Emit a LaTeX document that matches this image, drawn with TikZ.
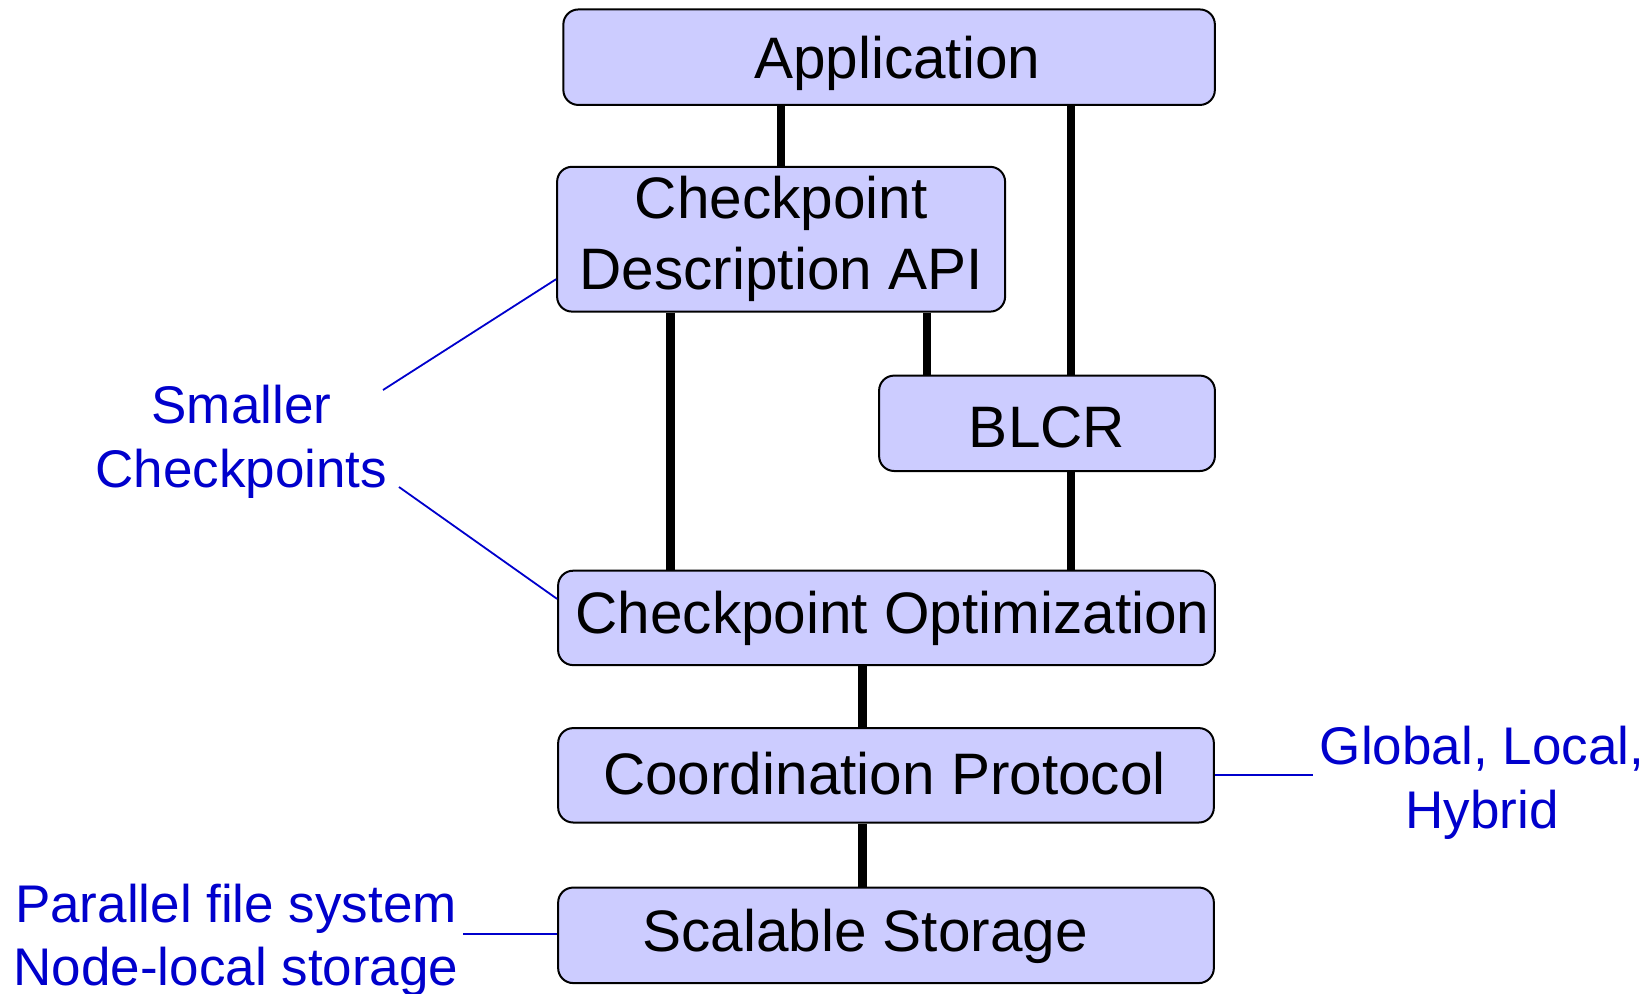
\documentclass[tikz,border=0pt]{standalone}
\usepackage{fontspec}
\setmainfont{Liberation Sans}
\definecolor{boxfill}{HTML}{CCCCFF}
\definecolor{notecolor}{HTML}{0000CC}
\begin{document}
\begin{tikzpicture}[x=1pt,y=-1pt,
  layer/.style={draw=black, line width=2pt, fill=boxfill, rounded corners=15pt, inner sep=0pt},
  layertext/.style={font=\fontsize{58.5}{68}\selectfont, text depth=0pt, align=center, inner sep=0pt},
  link/.style={line width=8.5pt},
  note/.style={font=\fontsize{53}{64}\selectfont, text=notecolor, text depth=0pt, align=center, inner sep=0pt},
  noteline/.style={draw=notecolor, line width=1.8pt}]
\useasboundingbox (0,0) rectangle (1645,993);

% layer boxes
\node[layer, minimum width=651.5pt, minimum height=95.5pt] (app)  at (889.1,57.2)  {};
\node[layer, minimum width=448pt,   minimum height=144.8pt] (cda) at (781.1,239.2) {};
\node[layer, minimum width=335.8pt, minimum height=95.4pt] (blcr) at (1047,423.3)  {};
\node[layer, minimum width=656.8pt, minimum height=94.4pt] (co)   at (886.5,617.9) {};
\node[layer, minimum width=655.7pt, minimum height=94.4pt] (cp)   at (886,775.3)   {};
\node[layer, minimum width=655.7pt, minimum height=95.5pt] (ss)   at (886,935.3)   {};

% box captions
\node[layertext] (apptext)  at ([xshift=8pt]app.center)   {Application};
\node[layertext, font=\fontsize{58.5}{71}\selectfont] (cdatext)  at ([yshift=6pt]cda.center) {Checkpoint\\Description API};
\node[layertext] (blcrtext) at ([yshift=-3.5pt]blcr.center) {BLCR};
\node[layertext] (cotext)   at ([xshift=6pt,yshift=5.5pt]co.center) {Checkpoint Optimization};
\node[layertext] (cptext)   at ([xshift=-1.5pt,yshift=2.5pt]cp.center) {Coordination Protocol};
\node[layertext] (sstext)   at ([xshift=-21pt,yshift=5pt]ss.center) {Scalable Storage};

% columns of the vertical links
\coordinate (colA) at (781,0);
\coordinate (colB) at (670.4,0);
\coordinate (colC) at (927,0);
\coordinate (colD) at (1071,0);
\coordinate (colE) at (862.4,0);

\draw[link] (app.south -| colA)  -- (cda.north -| colA);
\draw[link] (app.south -| colD)  -- (blcr.north -| colD);
\draw[link] (cda.south -| colC)  -- (blcr.north -| colC);
\draw[link] (cda.south -| colB)  -- (co.north -| colB);
\draw[link] (blcr.south -| colD) -- (co.north -| colD);
\draw[link] (co.south -| colE)   -- (cp.north -| colE);
\draw[link] (cp.south -| colE)   -- (ss.north -| colE);

% side notes
\node[note] (smaller) at (241.4,436) {Smaller\\Checkpoints};
\node[note] (coordkinds) at (1482,777.5) {Global, Local,\\Hybrid};
\node[note, font=\fontsize{53}{62.5}\selectfont] (storagekinds) at (236,934.8) {Parallel file system\\Node-local storage};

\coordinate (smA) at (383,390);
\coordinate (smB) at (399,487);
\coordinate (ckA) at (1313,775.3);
\coordinate (stA) at (463,934);

\draw[noteline] (smA) -- ([yshift=-40pt]cda.west);
\draw[noteline] (smB) -- ([yshift=19pt]co.west);
\draw[noteline] (cp.east) -- (ckA);
\draw[noteline] (stA) -- (stA -| ss.west);
\end{tikzpicture}
\end{document}
